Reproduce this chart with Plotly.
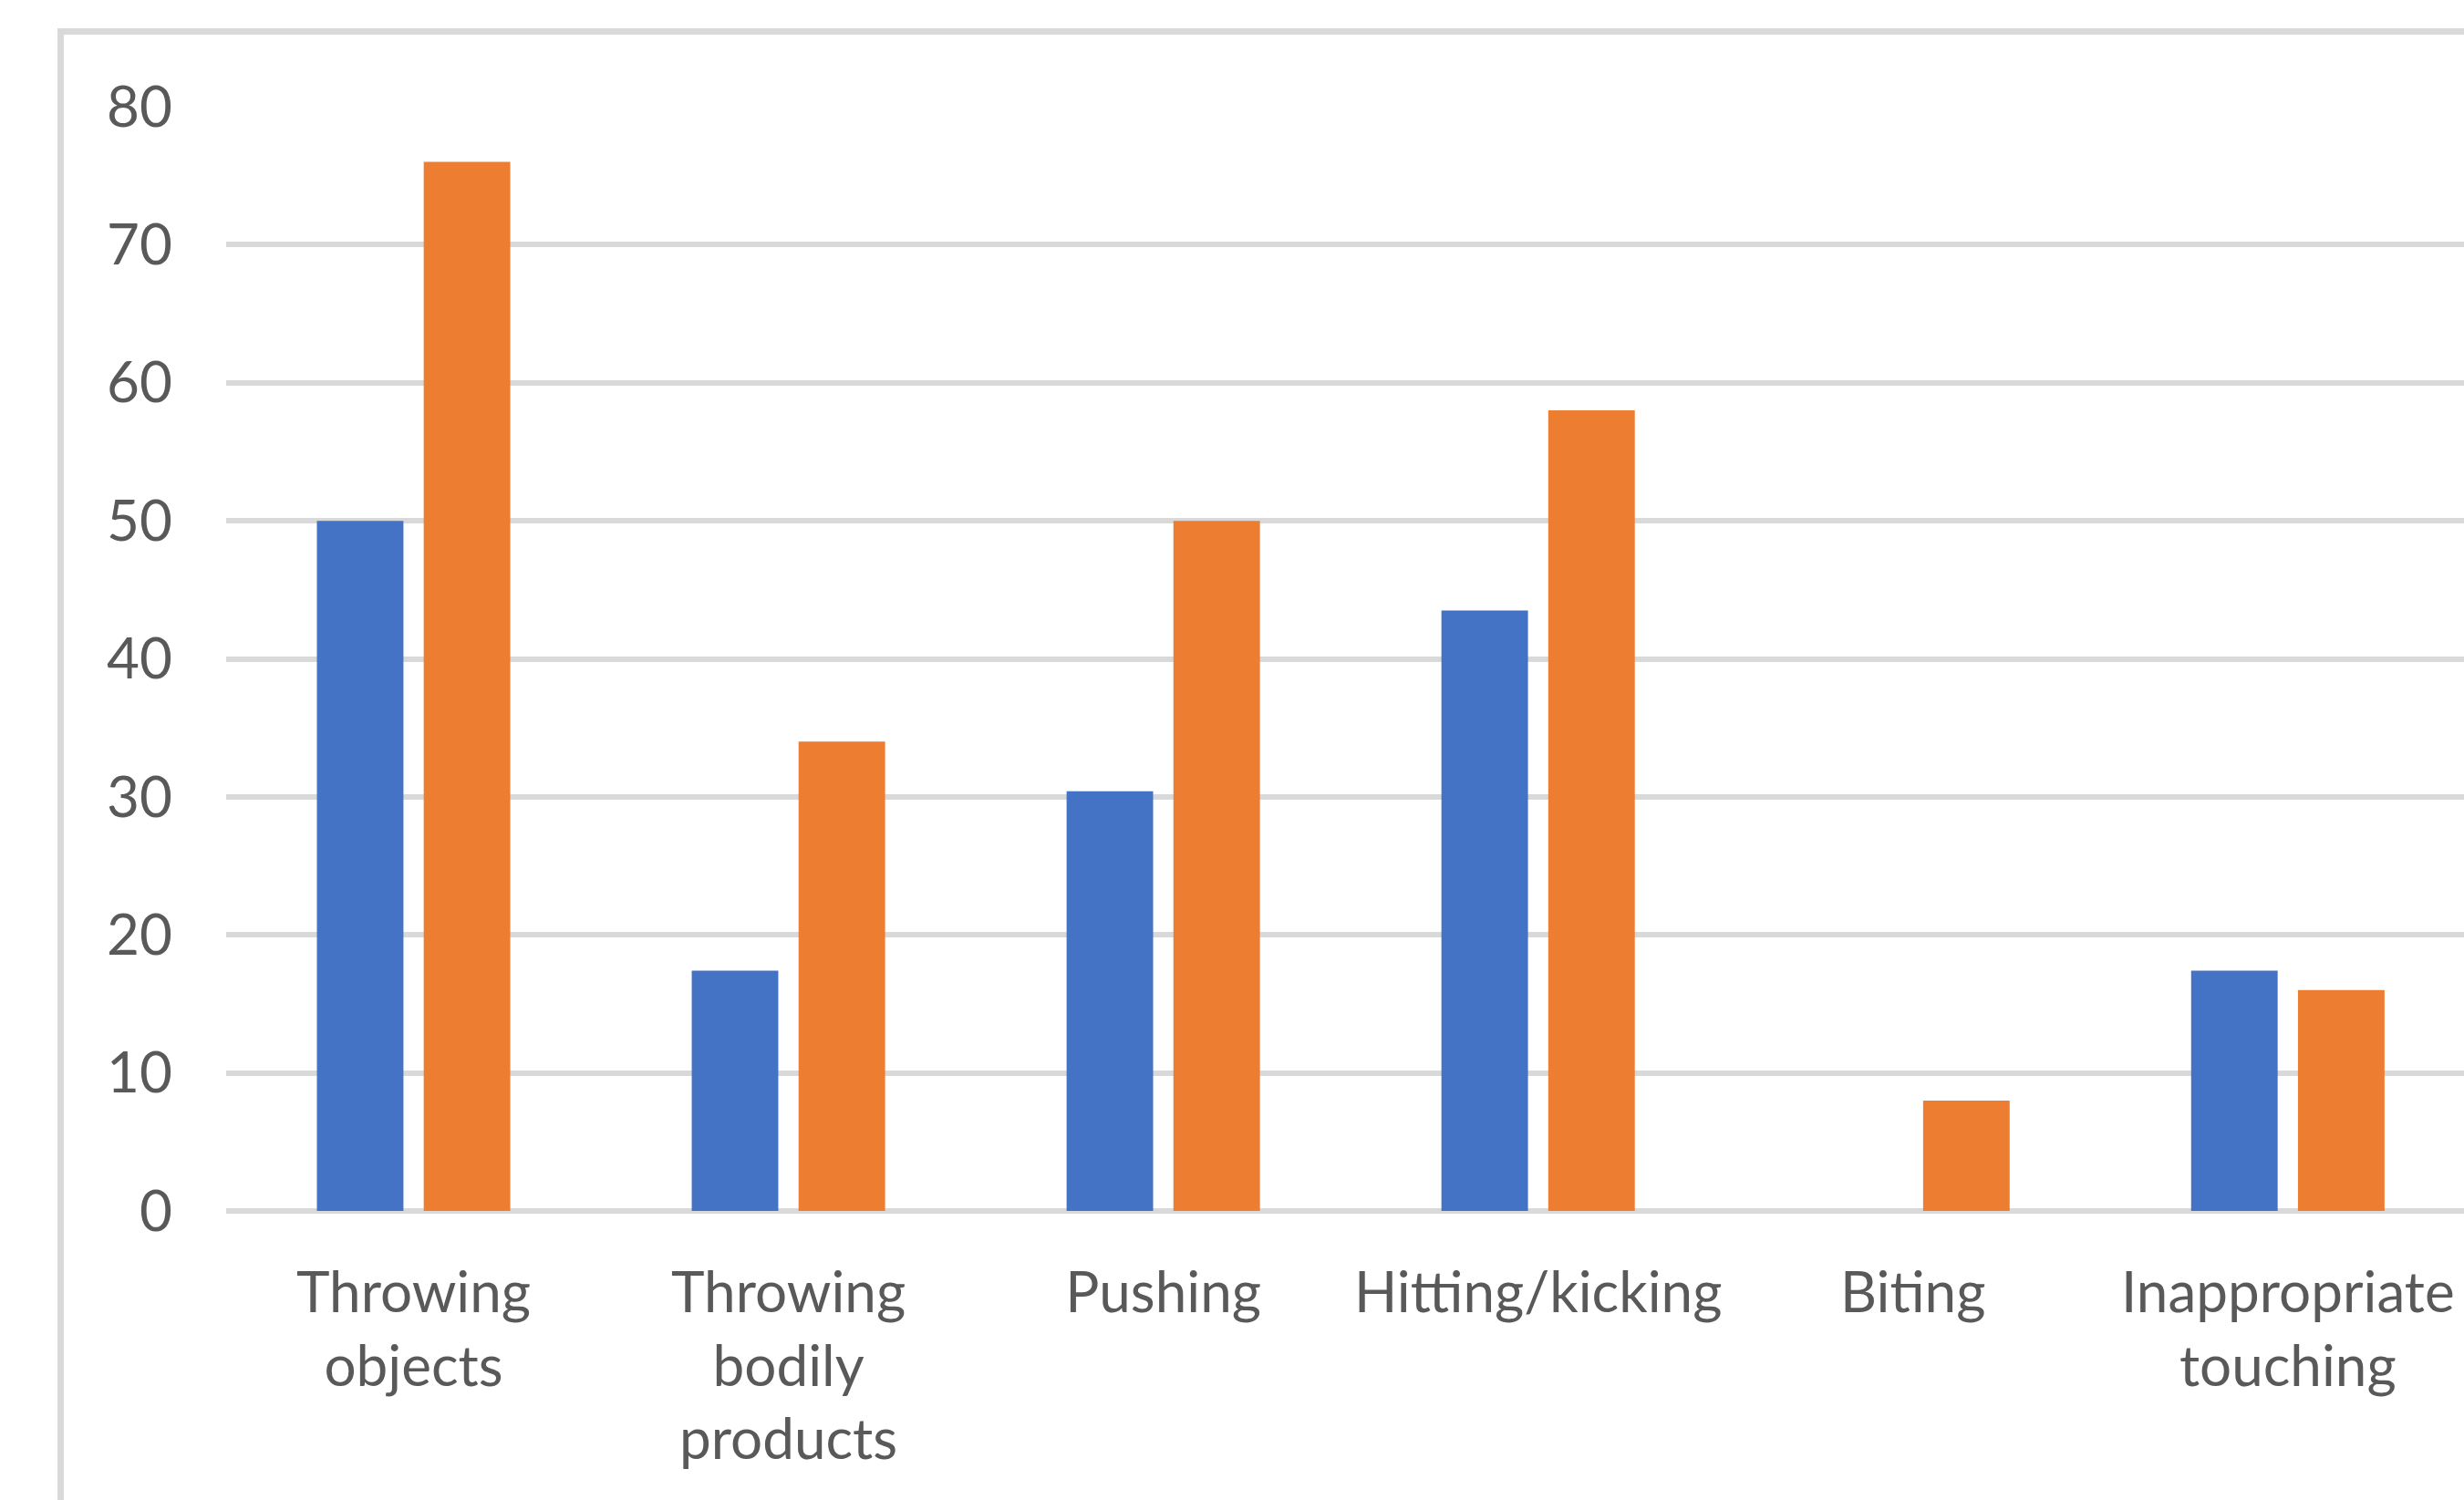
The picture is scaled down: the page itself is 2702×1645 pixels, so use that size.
import plotly.graph_objects as go

categories = ["Throwing<br>objects", "Throwing<br>bodily<br>products", "Pushing",
              "Hitting/kicking", "Biting", "Inappropriate<br>touching"]
series_blue = [50.0, 17.4, 30.4, 43.5, 0.0, 17.4]
series_orange = [76.0, 34.0, 50.0, 58.0, 8.0, 16.0]
y_ticks = [0, 10, 20, 30, 40, 50, 60, 70, 80]

W, H = 2702, 1645
L, R, T, B = 248, 0, 117, 317
FONT = "Lato"

fig = go.Figure()
fig.add_trace(go.Bar(x=categories, y=series_blue, marker_color="#4472C4",
                     marker_line_width=0, name="Series 1"))
fig.add_trace(go.Bar(x=categories, y=series_orange, marker_color="#ED7D31",
                     marker_line_width=0, name="Series 2"))

pw = W - L - R
ph = H - T - B
def px_x(p):
    return (p - L) / pw
def px_y(p):
    return (H - B - p) / ph

fig.add_shape(type="rect", xref="paper", yref="paper",
              x0=px_x(66.5), x1=px_x(W + 50), y0=px_y(H + 50), y1=px_y(34.5),
              line=dict(color="#D9D9D9", width=7), fillcolor="rgba(0,0,0,0)",
              layer="below")

fig.update_layout(
    width=W, height=H,
    margin=dict(l=L, r=R, t=T, b=B, pad=0),
    paper_bgcolor="white", plot_bgcolor="white",
    barmode="group", bargap=0.43, bargroupgap=0.19,
    showlegend=False,
    font=dict(family=FONT, size=62, color="#595959"),
    xaxis=dict(range=[-0.5, 5.47], showgrid=False, zeroline=False, showline=False,
               ticks="", tickfont=dict(family=FONT, size=62, color="#595959"),
               ticklabelstandoff=48),
    yaxis=dict(range=[0, 80], tickvals=y_ticks, showgrid=True, gridcolor="#D9D9D9",
               gridwidth=6, zeroline=True, zerolinecolor="#D9D9D9", zerolinewidth=6,
               showline=False, ticks="", tickfont=dict(family=FONT, size=62, color="#595959"),
               ticklabelstandoff=58),
)

fig.write_html("out.html")
